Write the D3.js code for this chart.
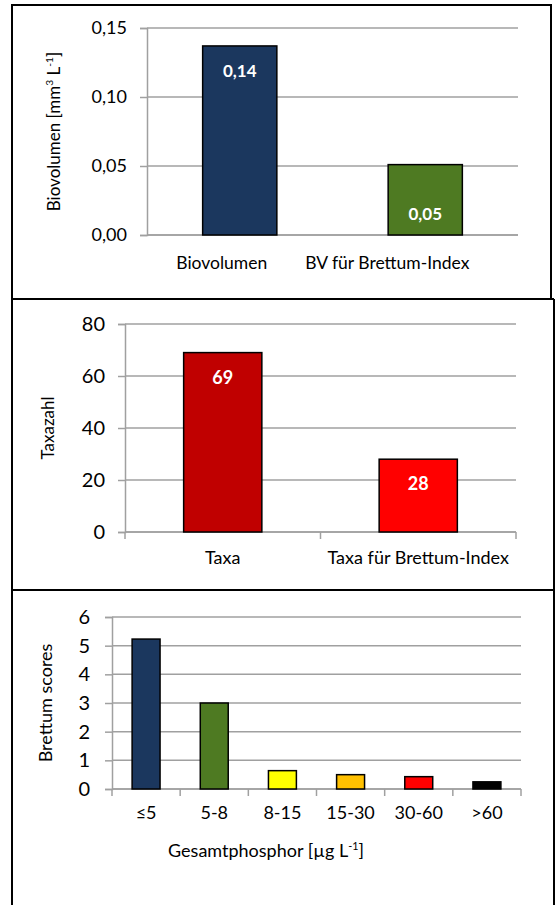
<!DOCTYPE html>
<html>
<head>
<meta charset="utf-8">
<script src="https://cdn.jsdelivr.net/npm/d3@7"></script>
<style>
  body { margin: 0; background: #fff; }
  svg text { font-family: Lato, "Open Sans", sans-serif; fill: #000; }
  .grid line { stroke: #a0a0a0; stroke-width: 1.5; }
  .axis path, .axis line { stroke: #a0a0a0; stroke-width: 1.5; }
  .frame line { stroke: #000; stroke-width: 2; }
</style>
</head>
<body>
<svg id="chart" width="556" height="905"></svg>
<script>
// Panel 1 : Biovolumen
const bvCategories = ["Biovolumen", "BV für Brettum-Index"];
const bvValues = [0.137, 0.051];
const bvLabels = ["0,14", "0,05"];
const bvLabelPos = ["end", "base"];
const bvTicks = [0, 0.05, 0.10, 0.15];
const bvColors = ["#1b375e", "#4e7a22"];

// Panel 2 : Taxazahl
const taxaCategories = ["Taxa", "Taxa für Brettum-Index"];
const taxaValues = [69, 28];
const taxaLabels = ["69", "28"];
const taxaLabelPos = ["end", "end"];
const taxaTicks = [0, 20, 40, 60, 80];
const taxaColors = ["#c00000", "#ff0000"];

// Panel 3 : Brettum scores
const brCategories = ["≤5", "5-8", "8-15", "15-30", "30-60", ">60"];
const brValues = [5.23, 3.0, 0.64, 0.5, 0.43, 0.25];
const brTicks = [0, 1, 2, 3, 4, 5, 6];
const brColors = ["#1b375e", "#4e7a22", "#ffff00", "#ffc000", "#ff0000", "#000000"];

const svg = d3.select("#chart");
const deFormat = d3.formatLocale({decimal: ",", thousands: ".", grouping: [3], currency: ["", " €"]});

// frame (table borders)
const frame = svg.append("g").attr("class", "frame");
frame.append("line").attr("x1", 11).attr("x2", 552).attr("y1", 5).attr("y2", 5);
frame.append("line").attr("x1", 12).attr("x2", 12).attr("y1", 4).attr("y2", 905);
frame.append("line").attr("x1", 551).attr("x2", 551).attr("y1", 4).attr("y2", 299);
frame.append("line").attr("x1", 12).attr("x2", 554).attr("y1", 299).attr("y2", 299);
frame.append("line").attr("x1", 554).attr("x2", 554).attr("y1", 299).attr("y2", 905);
frame.append("line").attr("x1", 12).attr("x2", 554).attr("y1", 590).attr("y2", 590);

drawPanel({
  cats: bvCategories, vals: bvValues, labels: bvLabels, labelPos: bvLabelPos,
  ticks: bvTicks, colors: bvColors, max: 0.15,
  left: 147, right: 518, top: 28, bottom: 235,
  barFrac: 0.40, tickFont: 18, tickPad: 13, tickFmt: deFormat.format(".2f"),
  catFont: 17.5, catY: 269, catShift: [-18, -38], xTicks: false,
  valFont: 17,
  yTitle: [{t: "Biovolumen [mm"}, {t: "3", sup: true}, {t: " L"}, {t: "-1", sup: true}, {t: "]"}],
  yTitleX: 54, yTitleFont: 17
});

drawPanel({
  cats: taxaCategories, vals: taxaValues, labels: taxaLabels, labelPos: taxaLabelPos,
  ticks: taxaTicks, colors: taxaColors, max: 80,
  left: 125, right: 516, top: 324, bottom: 532,
  barFrac: 0.40, tickFont: 20, tickPad: 13, tickFmt: d3.format("d"),
  catFont: 18, catY: 564, catShift: [0, 0], xTicks: true,
  valFont: 18,
  yTitle: [{t: "Taxazahl"}],
  yTitleX: 48, yTitleFont: 17
});

drawPanel({
  cats: brCategories, vals: brValues, labels: null, labelPos: null,
  ticks: brTicks, colors: brColors, max: 6,
  left: 112, right: 521, top: 617, bottom: 789,
  barFrac: 0.41, tickFont: 20, tickPad: 15, tickFmt: d3.format("d"),
  catFont: 18, catY: 819, catShift: null, xTicks: true,
  valFont: 0,
  yTitle: [{t: "Brettum scores"}],
  yTitleX: 46, yTitleFont: 18,
  xTitle: [{t: "Gesamtphosphor [µg L"}, {t: "-1", sup: true}, {t: "]"}],
  xTitleX: 266, xTitleY: 857, xTitleFont: 18
});

function drawPanel (p) {
  const g = svg.append("g");

  const x = d3.scaleBand()
    .domain(p.cats)
    .range([p.left, p.right])
    .padding(0);
  const y = d3.scaleLinear()
    .domain([0, p.max])
    .range([p.bottom, p.top]);

  // gridlines
  g.append("g").attr("class", "grid")
    .selectAll("line")
    .data(p.ticks)
    .enter().append("line")
    .attr("x1", p.left).attr("x2", p.right)
    .attr("y1", (d) => y(d)).attr("y2", (d) => y(d));

  // Y axis
  const yAxis = d3.axisLeft(y)
    .tickValues(p.ticks)
    .tickSize(7)
    .tickPadding(p.tickPad)
    .tickFormat(p.tickFmt);
  const ya = g.append("g").attr("class", "axis")
    .attr("transform", `translate(${p.left},0)`)
    .call(yAxis);
  ya.selectAll("text").style("font-size", p.tickFont + "px");

  // X axis
  const xa = g.append("g").attr("class", "axis")
    .attr("transform", `translate(0,${p.bottom})`);
  xa.append("line").attr("x1", p.left).attr("x2", p.right);
  if (p.xTicks) {
    const edges = p.cats.map((c) => x(c)).concat([p.right]);
    xa.selectAll(".xt")
      .data(edges)
      .enter().append("line")
      .attr("class", "xt")
      .attr("x1", (d) => d).attr("x2", (d) => d)
      .attr("y1", 0).attr("y2", 7);
  }

  // bars
  const bw = x.bandwidth() * p.barFrac;
  g.selectAll(".bar")
    .data(p.vals)
    .enter().append("rect")
    .attr("class", "bar")
    .attr("x", (d, i) => x(p.cats[i]) + (x.bandwidth() - bw) / 2)
    .attr("y", (d) => y(d))
    .attr("width", bw)
    .attr("height", (d) => y(0) - y(d))
    .attr("fill", (d, i) => p.colors[i])
    .attr("stroke", "#000")
    .attr("stroke-width", 1.5);

  // value labels
  if (p.labels) {
    g.selectAll(".val")
      .data(p.vals)
      .enter().append("text")
      .attr("class", "val")
      .attr("x", (d, i) => x(p.cats[i]) + x.bandwidth() / 2)
      .attr("y", (d, i) => p.labelPos[i] === "end" ? y(d) + 31 : y(0) - 15)
      .attr("text-anchor", "middle")
      .style("font-size", p.valFont + "px")
      .style("font-weight", "bold")
      .style("fill", "#fff")
      .text((d, i) => p.labels[i]);
  }

  // category labels
  g.selectAll(".cat")
    .data(p.cats)
    .enter().append("text")
    .attr("class", "cat")
    .attr("x", (d, i) => x(d) + x.bandwidth() / 2 + (p.catShift ? p.catShift[i] : 0))
    .attr("y", p.catY)
    .attr("text-anchor", "middle")
    .style("font-size", p.catFont + "px")
    .text((d) => d);

  // Y title
  const yt = g.append("text")
    .attr("transform", `translate(${p.yTitleX},${(p.top + p.bottom) / 2}) rotate(-90)`)
    .attr("text-anchor", "middle")
    .attr("dy", "0.35em")
    .style("font-size", p.yTitleFont + "px");
  addParts(yt, p.yTitle, p.yTitleFont);

  // X title
  if (p.xTitle) {
    const xt = g.append("text")
      .attr("x", p.xTitleX)
      .attr("y", p.xTitleY)
      .attr("text-anchor", "middle")
      .style("font-size", p.xTitleFont + "px");
    addParts(xt, p.xTitle, p.xTitleFont);
  }
}

// text with superscript parts
function addParts (sel, parts, size) {
  let up = false;
  parts.forEach((part) => {
    const ts = sel.append("tspan").text(part.t);
    if (part.sup && !up) {
      ts.attr("dy", -size * 0.4).style("font-size", (size * 0.6) + "px");
      up = true;
    } else if (!part.sup && up) {
      ts.attr("dy", size * 0.4);
      up = false;
    } else if (part.sup) {
      ts.style("font-size", (size * 0.6) + "px");
    }
  });
}
</script>
</body>
</html>
